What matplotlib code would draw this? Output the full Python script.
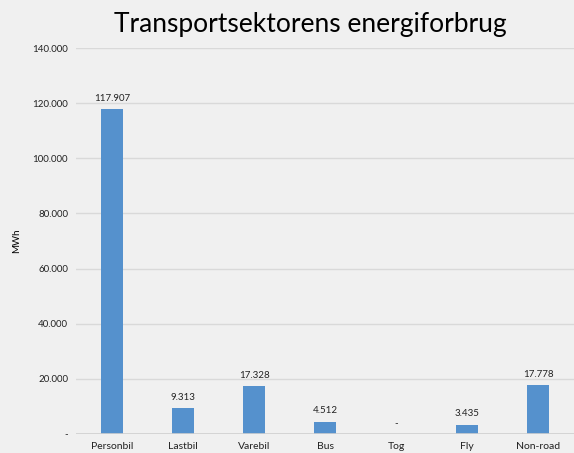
import matplotlib
matplotlib.use("Agg")
import matplotlib.pyplot as plt

categories = ["Personbil", "Lastbil", "Varebil", "Bus", "Tog", "Fly", "Non-road"]
values = [117907, 9313, 17328, 4512, 0, 3435, 17778]
yticks = [0, 20000, 40000, 60000, 80000, 100000, 120000, 140000]

def fmt(v):
    if v == 0:
        return "-"
    return f"{v:,.0f}".replace(",", ".")

plt.rcParams['font.family'] = ['Lato', 'DejaVu Sans']
bg = "#f0f0f0"
fig = plt.figure(figsize=(5.74, 4.53), dpi=100, facecolor=bg)
ax = fig.add_axes([0.133, 0.042, 0.867, 0.852], facecolor=bg)

x = range(len(categories))
ax.bar(x, values, width=0.31, color="#5591cd", zorder=3)
for xi, v in zip(x, values):
    ax.text(xi, v + 2200, fmt(v), ha="center", va="bottom", fontsize=7, color="#222222")

ax.set_xlim(-0.5, len(categories) - 0.5)
ax.set_ylim(0, 140000)
ax.set_yticks(yticks)
ax.set_yticklabels([fmt(t) for t in yticks], fontsize=7)
ax.set_xticks(list(x))
ax.set_xticklabels(categories, fontsize=7.5)
ax.grid(axis="y", color="#d9d9d9", linewidth=1, zorder=0)
ax.axhline(0, color="#d0d0d0", linewidth=1.2, zorder=4)
for s in ax.spines.values():
    s.set_visible(False)
ax.tick_params(length=0, pad=6, colors="#222222")
ax.set_ylabel("MWh", fontsize=7, labelpad=8)
fig.text(0.54, 0.945, "Transportsektorens energiforbrug", ha="center", va="center", fontsize=19)

fig.savefig("out.png", dpi=100, facecolor=bg)
